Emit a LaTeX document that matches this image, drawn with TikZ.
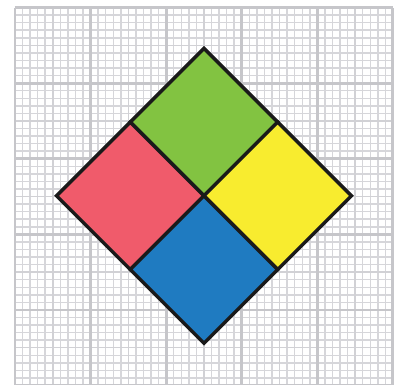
\documentclass[tikz,border=0pt]{standalone}
\usepackage{tikz}
\usepackage{xcolor}
\usetikzlibrary{calc}
\definecolor{gridminor}{HTML}{D6D6DA}
\definecolor{gridmajor}{HTML}{C6C6CA}
\definecolor{firered}{HTML}{F05B6B}
\definecolor{leafgreen}{HTML}{82C341}
\definecolor{sunyellow}{HTML}{F8EC2F}
\definecolor{seablue}{HTML}{1F7BC1}
\definecolor{edgeblack}{HTML}{1A1A1A}

\begin{document}
\begin{tikzpicture}[
    minorgrid/.style={draw=gridminor, line width=0.55pt},
    majorgrid/.style={draw=gridmajor, line width=1.1pt},
    quad/.style={draw=edgeblack, line width=1.3pt, line join=miter},
]
    \useasboundingbox (-0.198,0.02) rectangle (5.146,5.10);
    % Grid paper
    \draw[minorgrid] (0,-0.5) grid[step=0.1] (5,5);
    \draw[minorgrid, draw=gridmajor!80] (0,-0.5) grid[step=0.5] (5,5);
    \draw[majorgrid] (0,-0.5) grid[step=1] (5,5);
    \draw[majorgrid] (0,5) -- (5,5);

    % Diamond corners
    \coordinate (c) at (2.5,2.51);
    \coordinate (t) at ($(c)+(0,1.95)$);
    \coordinate (b) at ($(c)+(0,-1.95)$);
    \coordinate (l) at ($(c)+(-1.95,0)$);
    \coordinate (r) at ($(c)+(1.95,0)$);
    \coordinate (tl) at ($(t)!0.5!(l)$);
    \coordinate (tr) at ($(t)!0.5!(r)$);
    \coordinate (bl) at ($(b)!0.5!(l)$);
    \coordinate (br) at ($(b)!0.5!(r)$);

    % Quadrants
    \path[quad, fill=leafgreen] (t) -- (tr) -- (c) -- (tl) -- cycle;
    \path[quad, fill=firered] (tl) -- (c) -- (bl) -- (l) -- cycle;
    \path[quad, fill=sunyellow] (tr) -- (r) -- (br) -- (c) -- cycle;
    \path[quad, fill=seablue] (c) -- (br) -- (b) -- (bl) -- cycle;
\end{tikzpicture}
\end{document}
